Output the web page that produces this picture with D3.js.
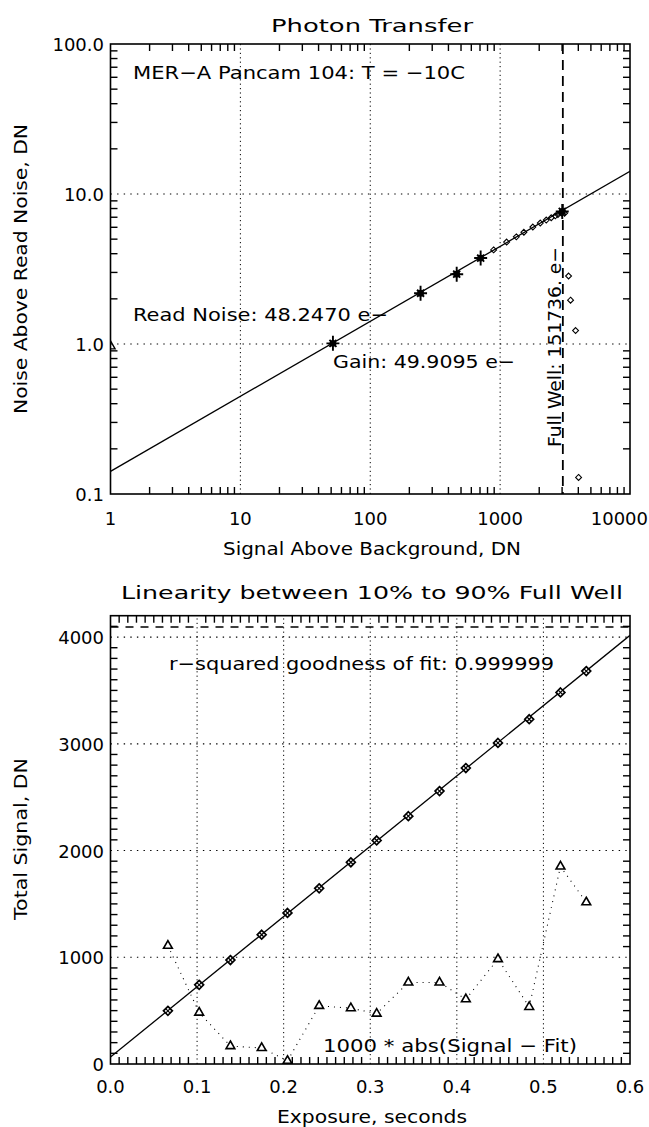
<!DOCTYPE html>
<html>
<head>
<meta charset="utf-8">
<script src="https://cdn.jsdelivr.net/npm/d3@7"></script>
<style>
  html, body { margin: 0; padding: 0; background: #fff; }
  svg { display: block; }
  text { font-family: "DejaVu Sans", "Liberation Sans", sans-serif; fill: #000; }
</style>
</head>
<body>
<svg id="chart" width="649" height="1127"></svg>
<script>
// ---- Photon transfer data (DN) ----
const ptcStarX = [51.6, 244, 463, 708, 3008];
const ptcStarY = [1.01, 2.18, 2.92, 3.74, 7.65];
const ptcDiamondX = [891, 1122, 1333, 1524, 1786, 2038, 2266, 2475, 2660, 2786, 2958, 3135, 3365, 3485, 3810, 4018];
const ptcDiamondY = [4.24, 4.78, 5.18, 5.56, 6.02, 6.40, 6.70, 6.95, 7.15, 7.30, 7.48, 7.45, 2.84, 1.96, 1.23, 0.129];
const gainEperDN = 49.9095;
const readNoiseE = 48.2470;
const fullWellE = 151736;
const ptcFitX = [1, 10000];
const ptcXTicks = [1, 10, 100, 1000, 10000];
const ptcXTickLabels = ["1", "10", "100", "1000", "10000"];
const ptcYTicks = [0.1, 1, 10, 100];
const ptcYTickLabels = ["0.1", "1.0", "10.0", "100.0"];

// ---- Linearity data ----
const expTime = [0.0663, 0.1024, 0.1385, 0.1746, 0.2044, 0.2410, 0.2776, 0.3074, 0.3440, 0.3800, 0.4104, 0.4475, 0.4836, 0.5197, 0.5495];
const totalSignal = [498, 742, 974, 1211, 1415, 1646, 1890, 2094, 2322, 2557, 2773, 3008, 3230, 3481, 3681];
const residual1000 = [1108, 482, 168, 150, 30, 545, 523, 472, 764, 764, 607, 983, 535, 1850, 1515];
const linFitIntercept = 65;
const linFitSlope = 6585;
const linFitX = [0, 0.6];
const saturationDN = 4095;
const linXTicks = [0, 0.1, 0.2, 0.3, 0.4, 0.5, 0.6];
const linXTickLabels = ["0.0", "0.1", "0.2", "0.3", "0.4", "0.5", "0.6"];
const linYTicks = [0, 1000, 2000, 3000, 4000];
const linYTickLabels = ["0", "1000", "2000", "3000", "4000"];

const svg = d3.select("#chart");
const W = 649;
const left = 110.5, right = 630;
const minorLen = 7;

function addText(g, str, x, y, opts = {}) {
  const t = g.append("text").attr("x", x).attr("y", y).text(str)
    .style("font-size", (opts.size || 18) + "px")
    .attr("text-anchor", opts.anchor || "start");
  if (opts.len) t.attr("textLength", opts.len).attr("lengthAdjust", "spacingAndGlyphs");
  if (opts.rotate) t.attr("transform", `rotate(-90 ${x} ${y})`);
  return t;
}

function frame(g, x, y) {
  const [x0, x1] = x.range();
  const [y0, y1] = y.range();
  g.append("rect").attr("x", x0).attr("y", y1).attr("width", x1 - x0).attr("height", y0 - y1)
    .attr("fill", "none").attr("stroke", "#000").attr("stroke-width", 1.6);
}

function gridV(g, x, y, vals) {
  const [y0, y1] = y.range();
  g.selectAll(null).data(vals).join("line")
    .attr("x1", d => x(d)).attr("x2", d => x(d)).attr("y1", y0).attr("y2", y1)
    .attr("stroke", "#000").attr("stroke-width", 1).attr("stroke-dasharray", "1.2,3.2");
}
function gridH(g, x, y, vals) {
  const [x0, x1] = x.range();
  g.selectAll(null).data(vals).join("line")
    .attr("y1", d => y(d)).attr("y2", d => y(d)).attr("x1", x0).attr("x2", x1)
    .attr("stroke", "#000").attr("stroke-width", 1.2).attr("stroke-dasharray", "1.4,5.2");
}
function minorX(g, x, y, vals) {
  const [y0, y1] = y.range();
  g.selectAll(null).data(vals).join("line").attr("x1", d => x(d)).attr("x2", d => x(d)).attr("y1", y0).attr("y2", y0 - minorLen)
    .attr("stroke", "#000").attr("stroke-width", 1.4);
  g.selectAll(null).data(vals).join("line").attr("x1", d => x(d)).attr("x2", d => x(d)).attr("y1", y1).attr("y2", y1 + minorLen)
    .attr("stroke", "#000").attr("stroke-width", 1.4);
}
function minorY(g, x, y, vals) {
  const [x0, x1] = x.range();
  g.selectAll(null).data(vals).join("line").attr("y1", d => y(d)).attr("y2", d => y(d)).attr("x1", x0).attr("x2", x0 + minorLen)
    .attr("stroke", "#000").attr("stroke-width", 1.4);
  g.selectAll(null).data(vals).join("line").attr("y1", d => y(d)).attr("y2", d => y(d)).attr("x1", x1).attr("x2", x1 - minorLen)
    .attr("stroke", "#000").attr("stroke-width", 1.4);
}
function logMinors(lo, hi) {
  const out = [];
  for (let e = Math.log10(lo); e < Math.log10(hi); e++)
    for (let m = 2; m <= 9; m++) out.push(m * Math.pow(10, e));
  return out;
}
// x tick labels centred on the tick, kept inside the page at the right edge
function xTickLabels(g, x, vals, labels, yPos) {
  g.selectAll(null).data(vals).join("text")
    .style("font-size", "18px").text((d, i) => labels[i])
    .attr("y", yPos)
    .each(function (d) {
      const el = d3.select(this);
      const w = this.getComputedTextLength();
      const cx = Math.min(x(d), W - 1 - w / 2);
      el.attr("x", cx).attr("text-anchor", "middle");
    });
}

// ================= Photon Transfer =================
{
  const x = d3.scaleLog().domain([1, 10000]).range([left, right]);
  const y = d3.scaleLog().domain([0.1, 100]).range([494, 44]);
  const g = svg.append("g");
  svg.append("defs").append("clipPath").attr("id", "clipPtc")
    .append("rect").attr("x", left).attr("y", 44).attr("width", right - left).attr("height", 450);

  gridV(g, x, y, [10, 100, 1000]);
  gridH(g, x, y, [1, 10]);
  minorX(g, x, y, logMinors(1, 10000));
  minorY(g, x, y, logMinors(0.1, 100));
  frame(g, x, y);

  xTickLabels(g, x, ptcXTicks, ptcXTickLabels, 494 + 31);
  g.selectAll(null).data(ptcYTicks).join("text")
    .attr("x", 104).attr("y", d => y(d) + 7).attr("text-anchor", "end")
    .style("font-size", "18px").text((d, i) => ptcYTickLabels[i]);

  addText(g, "Photon Transfer", 372, 32, { anchor: "middle", len: 202 });
  addText(g, "Signal Above Background, DN", 372, 555, { anchor: "middle", len: 298 });
  addText(g, "Noise Above Read Noise, DN", 27, 269, { anchor: "middle", len: 290, rotate: true });

  const data = g.append("g").attr("clip-path", "url(#clipPtc)");
  // shot-noise fit: sigma = sqrt(S / gain)
  const fit = ptcFitX.map(s => [s, Math.sqrt(s / gainEperDN)]);
  data.append("path").datum(fit)
    .attr("d", d3.line().x(d => x(d[0])).y(d => y(d[1])))
    .attr("fill", "none").attr("stroke", "#000").attr("stroke-width", 1.3);

  // full well marker
  const fwDN = fullWellE / gainEperDN;
  data.append("line").attr("x1", x(fwDN)).attr("x2", x(fwDN)).attr("y1", 44).attr("y2", 494)
    .attr("stroke", "#000").attr("stroke-width", 1.8).attr("stroke-dasharray", "10,6");

  // read noise marker at the axis
  data.append("path").attr("d", d3.symbol(d3.symbolTriangle2, 60)())
    .attr("transform", `translate(${x(1)},${y(readNoiseE / gainEperDN)})`)
    .attr("fill", "none").attr("stroke", "#000").attr("stroke-width", 1.4);

  data.selectAll(null).data(ptcDiamondX).join("path")
    .attr("d", d3.symbol(d3.symbolDiamond2, 22)())
    .attr("transform", (d, i) => `translate(${x(d)},${y(ptcDiamondY[i])})`)
    .attr("fill", "none").attr("stroke", "#000").attr("stroke-width", 1.1);

  const stars = data.selectAll(null).data(ptcStarX).join("g")
    .attr("transform", (d, i) => `translate(${x(d)},${y(ptcStarY[i])})`);
  stars.append("path")
    .attr("d", "M0,-7.5V7.5M-6.5,0H6.5M-3.5,-3.5L3.5,3.5M-3.5,3.5L3.5,-3.5")
    .attr("stroke", "#000").attr("stroke-width", 1.9);
  stars.append("circle").attr("r", 3.4).attr("fill", "#000");

  addText(g, "MER\u2212A Pancam 104: T = \u221210C", 133, 79, { len: 332 });
  addText(g, "Read Noise: " + readNoiseE.toFixed(4) + " e\u2212", 133, 321, { len: 255 });
  addText(g, "Gain: " + gainEperDN.toFixed(4) + " e\u2212", 333, 368, { len: 182 });
  addText(g, "Full Well: " + fullWellE + ". e\u2212", 561, 447, { len: 200, rotate: true });
}

// ================= Linearity =================
{
  const top = 615.7, bottom = 1064;
  const x = d3.scaleLinear().domain([0, 0.6]).range([left, right]);
  const y = d3.scaleLinear().domain([0, 4200]).range([bottom, top]);
  const g = svg.append("g");
  svg.append("defs").append("clipPath").attr("id", "clipLin")
    .append("rect").attr("x", left).attr("y", top).attr("width", right - left).attr("height", bottom - top);

  gridV(g, x, y, [0.1, 0.2, 0.3, 0.4, 0.5]);
  gridH(g, x, y, [1000, 2000, 3000, 4000]);
  const xMinor = d3.range(1, 60).filter(i => i % 10 !== 0).map(i => i / 100);
  const yMinor = d3.range(1, 42).filter(i => i % 10 !== 0).map(i => i * 100);
  minorX(g, x, y, xMinor);
  minorY(g, x, y, yMinor);
  frame(g, x, y);

  xTickLabels(g, x, linXTicks, linXTickLabels, bottom + 29);
  g.selectAll(null).data(linYTicks).join("text")
    .attr("x", 104).attr("y", d => y(d) + 7).attr("text-anchor", "end")
    .style("font-size", "18px").text((d, i) => linYTickLabels[i]);

  addText(g, "Linearity between 10% to 90% Full Well", 372, 599, { anchor: "middle", len: 502 });
  addText(g, "Exposure, seconds", 372, 1123, { anchor: "middle", len: 190 });
  addText(g, "Total Signal, DN", 27, 839, { anchor: "middle", len: 162, rotate: true });

  const data = g.append("g").attr("clip-path", "url(#clipLin)");

  // saturation level
  data.append("line").attr("x1", left).attr("x2", right).attr("y1", y(saturationDN)).attr("y2", y(saturationDN))
    .attr("stroke", "#000").attr("stroke-width", 1.5).attr("stroke-dasharray", "8,7");

  const fit = linFitX.map(t => [t, linFitIntercept + linFitSlope * t]);
  data.append("path").datum(fit)
    .attr("d", d3.line().x(d => x(d[0])).y(d => y(d[1])))
    .attr("fill", "none").attr("stroke", "#000").attr("stroke-width", 1.3);

  // residuals
  const resPts = expTime.map((t, i) => [t, residual1000[i]]);
  data.append("path").datum(resPts)
    .attr("d", d3.line().x(d => x(d[0])).y(d => y(d[1])))
    .attr("fill", "none").attr("stroke", "#000").attr("stroke-width", 1.1).attr("stroke-dasharray", "1,5");
  data.selectAll(null).data(resPts).join("path")
    .attr("d", d3.symbol(d3.symbolTriangle2, 55)())
    .attr("transform", d => `translate(${x(d[0])},${y(d[1])})`)
    .attr("fill", "#fff").attr("stroke", "#000").attr("stroke-width", 1.6);

  // measured signal
  const sig = data.selectAll(null).data(expTime).join("g")
    .attr("transform", (d, i) => `translate(${x(d)},${y(totalSignal[i])})`);
  sig.append("path").attr("d", d3.symbol(d3.symbolDiamond2, 50)())
    .attr("fill", "#fff").attr("stroke", "#000").attr("stroke-width", 1.7);
  sig.append("path").attr("d", "M-2,-2L2,2M-2,2L2,-2").attr("stroke", "#000").attr("stroke-width", 1.2);

  addText(g, "r\u2212squared goodness of fit: 0.999999", 169, 670, { len: 385 });
  addText(g, "1000 * abs(Signal \u2212 Fit)", 323, 1052, { len: 254 });
}
</script>
</body>
</html>
